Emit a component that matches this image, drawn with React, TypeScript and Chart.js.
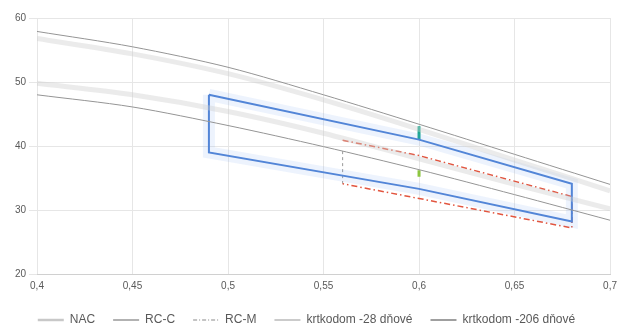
import React, { useEffect, useRef } from "react";
import { Chart, registerables } from "chart.js";

Chart.register(...registerables);

// X positions for the curves
const curveX = [0.4, 0.45, 0.5, 0.55, 0.6, 0.65, 0.7];
const nacUpper = [56.8, 54.4, 51.3, 47.2, 42.6, 37.8, 33.0];
const nacLower = [49.8, 48.0, 45.4, 42.0, 38.0, 34.0, 30.2];
const rccUpper = [57.9, 55.5, 52.3, 48.0, 43.4, 38.7, 34.0];
const rccLower = [48.0, 46.1, 43.2, 39.9, 36.3, 32.4, 28.4];

// RC-M (dash-dot) lines
const rcmX = [0.56, 0.6, 0.68];
const rcmUpper = [40.9, 38.5, 32.1];
const rcmLower = [34.1, 31.8, 27.2];
const rcmLeftX = 0.56;
const rcmLeft = [39.2, 34.1];

// Blue box
const boxX = [0.49, 0.6, 0.68];
const boxTop = [48.0, 41.0, 34.1];
const boxBottom = [39.0, 33.3, 28.2];

// krtkodom markers at 0.6
const krtX = 0.6;
const krt28 = [43.1, 41.0];
const krt206 = [36.2, 35.2];

const xTicks = { min: 0.4, max: 0.7, step: 0.05 };
const yTicks = { min: 20, max: 60, step: 10 };

const legendLabels = ["NAC", "RC-C", "RC-M", "krtkodom -28 dňové", "krtkodom -206 dňové"];
const legendColors = ["#c8c8c8", "#7f7f7f", "#8a8a8a", "#a8a8a8", "#606060"];

const pts = (xs: number[], ys: number[]) => xs.map((x, i) => ({ x, y: ys[i] }));

export default function App() {
  const ref = useRef<HTMLCanvasElement | null>(null);
  useEffect(() => {
    document.body.style.margin = "0";
    if (!ref.current) return;
    const boxPts = [
      ...pts(boxX, boxTop),
      ...pts([...boxX].reverse(), [...boxBottom].reverse()),
      { x: boxX[0], y: boxTop[0] },
    ];
    const rcmPts = [
      ...pts(rcmX, rcmUpper),
      { x: rcmX[rcmX.length - 1], y: rcmLower[rcmLower.length - 1] },
      ...pts([...rcmX].reverse(), [...rcmLower].reverse()).slice(1),
    ];
    const common = { pointRadius: 0, tension: 0.3, fill: false };
    const chart = new Chart(ref.current, {
      type: "line",
      data: {
        datasets: [
          { label: "NAC", data: pts(curveX, nacUpper), borderColor: "rgba(205,205,205,0.4)", borderWidth: 5, ...common },
          { label: "NAC", data: pts(curveX, nacLower), borderColor: "rgba(205,205,205,0.4)", borderWidth: 5, hideLegend: true, ...common },
          { label: "RC-C", data: pts(curveX, rccUpper), borderColor: "#959595", borderWidth: 1, ...common },
          { label: "RC-C", data: pts(curveX, rccLower), borderColor: "#959595", borderWidth: 1, hideLegend: true, ...common },
          { label: "box-glow", data: boxPts, borderColor: "rgba(110,160,235,0.12)", borderWidth: 12, hideLegend: true, pointRadius: 0, tension: 0 },
          { label: "box", data: boxPts, borderColor: "#4f82d4", borderWidth: 2, hideLegend: true, pointRadius: 0, tension: 0 },
          { label: "RC-M", data: rcmPts, borderColor: "#e2553f", borderWidth: 1.5, borderDash: [6, 3, 1.5, 3], pointRadius: 0, tension: 0 },
          { label: "RC-M", data: pts([rcmLeftX, rcmLeftX], rcmLeft), borderColor: "#999", borderWidth: 1, borderDash: [3, 3], hideLegend: true, pointRadius: 0, tension: 0 },
          { label: "krtkodom -28 dňové", data: pts([krtX, krtX], krt28), borderColor: "#19a890", backgroundColor: "#19a890", borderWidth: 3, pointRadius: 0, tension: 0 },
          { label: "krtkodom -206 dňové", data: pts([krtX, krtX], krt206), borderColor: "#8cc63f", backgroundColor: "#8cc63f", borderWidth: 3, pointRadius: 0, tension: 0 },
        ] as any,
      },
      options: {
        animation: false,
        responsive: false,
        maintainAspectRatio: false,
        layout: { padding: { left: 0, right: 10, top: 18, bottom: -9 } },
        scales: {
          x: {
            type: "linear",
            min: xTicks.min,
            max: xTicks.max,
            ticks: {
              stepSize: xTicks.step,
              color: "#595959",
              padding: 6,
              font: { family: "Liberation Sans", size: 10 },
              callback: (v: any) => String(Math.round(Number(v) * 100) / 100).replace(".", ","),
              maxRotation: 0,
            },
            grid: { color: "#e6e6e6", drawTicks: false },
            border: { color: "#d0d0d0" },
            afterFit: (s: any) => { s.height = 22; },
          },
          y: {
            min: yTicks.min,
            max: yTicks.max,
            ticks: { stepSize: yTicks.step, color: "#595959", font: { family: "Liberation Sans", size: 10 } },
            grid: { color: "#e6e6e6" },
            border: { display: false },
            afterFit: (s: any) => { s.width = 37; },
          },
        },
        plugins: {
          tooltip: { enabled: false },
          legend: {
            position: "bottom",
            labels: {
              color: "#595959",
              font: { family: "Liberation Sans", size: 12 },
              usePointStyle: true,
              pointStyleWidth: 26,
              boxHeight: 8,
              padding: 18,
              filter: (item: any, data: any) => !data.datasets[item.datasetIndex].hideLegend,
              generateLabels: (c: any) => {
                const items = Chart.defaults.plugins.legend.labels.generateLabels(c);
                return items.map((it: any) => {
                  const idx = legendLabels.indexOf(it.text);
                  return {
                    ...it,
                    pointStyle: "line",
                    strokeStyle: idx >= 0 ? legendColors[idx] : it.strokeStyle,
                    lineWidth: idx === 0 ? 2.5 : 1.2,
                    lineDash: it.text === "RC-M" ? [4, 2, 1, 2] : [],
                  };
                });
              },
            },
          },
        },
      } as any,
    });
    return () => chart.destroy();
  }, []);
  return (
    <div style={{ width: 623, height: 327 }}>
      <canvas ref={ref} width={623} height={327} style={{ width: 623, height: 327 }} />
    </div>
  );
}
